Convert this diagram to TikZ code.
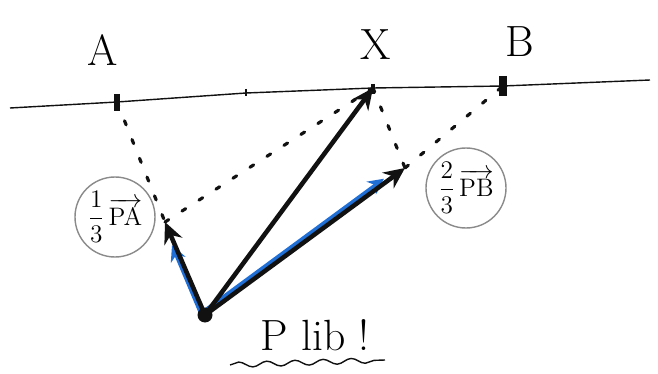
\documentclass[tikz,border=0pt]{standalone}
\usepackage{amsmath,amssymb}
\usepackage{tikz}
\usetikzlibrary{arrows.meta,calc,decorations.pathmorphing}
\definecolor{SketchInk}{HTML}{111111}
\definecolor{SketchBlue}{HTML}{1F6FD6}
\definecolor{SketchGray}{HTML}{8A8A8A}

\begin{document}
\begin{tikzpicture}[
  vec/.style={line width=2.6pt,SketchInk,-{Stealth[length=12pt,width=11pt]}},
  bluevec/.style={line width=2pt,SketchBlue,-{Stealth[length=9pt,width=9pt]}},
  guide/.style={line width=1.8pt,SketchInk,line cap=round,dash pattern=on 2.5pt off 9pt},
  tag/.style={circle,draw=SketchGray,thick,inner sep=0pt,minimum size=1.6cm,font=\Large},
  lbl/.style={font=\Huge}
]
  \useasboundingbox (0,0) rectangle (13.16,-7.48);
  % the line through A and B
  \coordinate (L) at (0.2,-2.16);
  \coordinate (A) at (2.34,-2.04);
  \coordinate (M) at (4.92,-1.86);
  \coordinate (X) at (7.46,-1.76);
  \coordinate (B) at (10.06,-1.72);
  \coordinate (R) at (13.0,-1.6);
  \draw[thick,SketchInk] (L)--(A)--(M)--(X)--(B)--(R);
  \draw[line width=3.5pt,SketchInk] ($(A)+(0,0.16)$)--($(A)+(0,-0.18)$);
  \draw[thick,SketchInk] ($(M)+(0,0.08)$)--($(M)+(0,-0.06)$);
  \draw[line width=2.5pt,SketchInk] ($(X)+(0,0.08)$)--($(X)+(0,-0.12)$);
  \draw[line width=4.5pt,SketchInk] ($(B)+(0,0.2)$)--($(B)+(0,-0.2)$);
  \node[lbl] (labA) at (2.06,-1.0) {A};
  \node[lbl] (labX) at (7.52,-0.9) {X};
  \node[lbl] (labB) at (10.4,-0.84) {B};
  % P and the two parts
  \coordinate (P) at (4.1,-6.3);
  \coordinate (U) at (3.3,-4.44);
  \coordinate (V) at (8.1,-3.36);
  \draw[guide] (A)--(U);
  \draw[guide] (U)--(X);
  \draw[guide] (X)--(V);
  \draw[guide] (V)--(B);
  \draw[bluevec] ($(P)+(-0.08,0.02)$)--($(U)!0.25!(P)+(-0.06,0)$);
  \draw[bluevec] ($(P)+(-0.02,0.08)$)--($(V)!0.1!(P)+(-0.02,0.08)$);
  \draw[vec] (P)--(U);
  \draw[vec] (P)--(X);
  \draw[vec] (P)--(V);
  \fill[SketchInk] (P) circle (0.15);
  \node[tag] (tagA) at (2.3,-4.34) {$\dfrac{1}{3}\,\overrightarrow{\mathrm{PA}}$};
  \node[tag] (tagB) at (9.32,-3.76) {$\dfrac{2}{3}\,\overrightarrow{\mathrm{PB}}$};
  % note
  \node[lbl] (plib) at (6.3,-6.7) {P lib !};
  \coordinate (ul1) at (4.6,-7.3);
  \coordinate (ul2) at (7.7,-7.2);
  \draw[thick,SketchInk,decorate,decoration={snake,amplitude=1.5pt,segment length=16pt}] (ul1)--(ul2);
\end{tikzpicture}
\end{document}
